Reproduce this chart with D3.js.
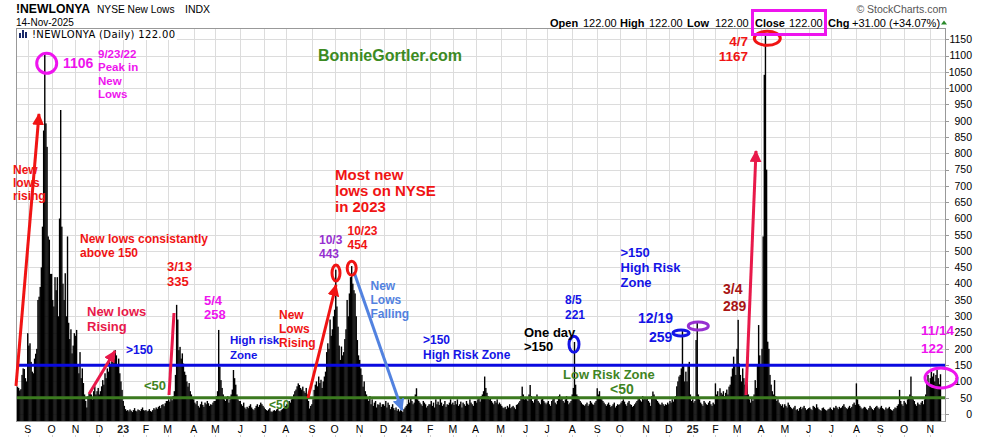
<!DOCTYPE html>
<html>
<head>
<meta charset="utf-8">
<script src="https://cdn.jsdelivr.net/npm/d3@7"></script>
<style>
  body { margin: 0; background: #fff; }
  svg { display: block; font-family: "Liberation Sans", Arial, sans-serif; }
</style>
</head>
<body>
<svg id="chart" width="990" height="438"></svg>
<script>

// NYSE new lows, one value per trading day, grouped by month
var lows2022 = [
  [84, 80, 72, 76, 120, 140, 138, 110, 100],                                                          // Aug (from 19th)
  [248, 210, 217, 160, 130, 125, 170, 185, 200, 350, 360, 390, 450, 575, 870, 1106, 892, 820, 545, 535, 430],
  [430, 350, 330, 420, 380, 420, 300, 600, 933, 575, 400, 350, 432, 300, 545, 280, 230, 260, 186, 210, 248],
  [240, 258, 150, 125, 190, 110, 140, 95, 60, 40, 20, 55, 63, 70, 60, 45, 70, 85, 60, 70, 80],
  [60, 70, 85, 104, 90, 125, 110, 140, 130, 160, 150, 175, 186, 170, 196, 180, 150, 170, 125, 100, 74]
];
var lows2023 = [
  [40, 25, 15, 10, 12, 8, 14, 10, 6, 12, 18, 10, 8, 14, 12, 9, 15, 20, 12, 10],
  [12, 8, 10, 15, 9, 7, 12, 18, 14, 20, 16, 22, 25, 18, 28, 30, 24, 33, 40],
  [40, 45, 38, 50, 42, 55, 70, 120, 335, 290, 196, 206, 170, 186, 155, 130, 120, 100, 84, 95, 70, 60, 50],
  [45, 35, 30, 40, 25, 20, 30, 38, 28, 22, 35, 30, 40, 33, 25, 30, 28, 35, 40],
  [40, 55, 70, 258, 145, 104, 80, 60, 45, 40, 50, 55, 35, 45, 60, 75, 135, 110, 90, 60, 45, 40],
  [40, 30, 25, 35, 20, 15, 22, 18, 25, 30, 20, 15, 12, 18, 25, 30, 22, 28, 35, 30, 25],
  [20, 15, 12, 10, 14, 18, 8, 6, 10, 12, 9, 14, 16, 10, 8, 12, 15, 18, 20],
  [25, 30, 28, 40, 35, 45, 50, 60, 70, 75, 85, 94, 89, 80, 75, 84, 70, 65, 80, 60, 40, 17, 25],
  [30, 45, 74, 90, 100, 85, 115, 95, 105, 80, 100, 115, 130, 190, 217, 200, 290, 240, 260, 300],
  [320, 443, 330, 268, 210, 166, 207, 180, 190, 230, 260, 350, 300, 370, 420, 454, 400, 380, 370, 300, 227, 180],
  [166, 140, 120, 84, 100, 70, 60, 50, 40, 55, 30, 45, 25, 35, 40, 20, 30, 28, 35, 22, 30],
  [30, 25, 40, 20, 35, 28, 15, 22, 30, 18, 12, 20, 10, 15, 8, 12, 10, 6, 15, 20]
];
var lows2024 = [
  [25, 30, 45, 35, 50, 40, 30, 35, 60, 79, 45, 40, 35, 30, 25, 40, 35, 30, 20, 25, 30],
  [30, 40, 25, 35, 20, 45, 30, 38, 28, 50, 35, 25, 30, 40, 22, 30, 28, 35, 45, 30],
  [35, 28, 40, 30, 45, 25, 30, 38, 20, 35, 30, 25, 40, 32, 28, 45, 35, 30, 25, 40],
  [40, 35, 45, 50, 38, 55, 60, 70, 115, 80, 65, 55, 45, 50, 40, 35, 30, 40, 35, 45, 30, 35],
  [30, 25, 20, 18, 22, 15, 25, 20, 30, 18, 22, 25, 20, 15, 28, 30, 35, 40, 55, 84, 60, 45],
  [50, 45, 40, 60, 89, 55, 40, 35, 45, 50, 60, 40, 35, 30, 45, 50, 40, 35, 30],
  [35, 40, 30, 25, 40, 45, 50, 35, 30, 40, 55, 60, 45, 50, 40, 35, 45, 55, 40, 30, 35, 40],
  [60, 80, 221, 90, 60, 55, 45, 40, 35, 30, 28, 25, 30, 35, 25, 30, 40, 35, 30, 28, 35, 40],
  [79, 60, 70, 50, 45, 40, 35, 30, 25, 30, 35, 28, 22, 25, 30, 35, 20, 25, 30, 28],
  [30, 35, 40, 45, 38, 30, 25, 35, 40, 30, 28, 22, 25, 30, 35, 40, 45, 50, 42, 38, 55, 45, 50],
  [45, 50, 40, 35, 25, 55, 69, 60, 50, 45, 40, 35, 30, 28, 35, 30, 25, 30, 28, 35],
  [30, 40, 35, 45, 38, 50, 55, 85, 100, 115, 120, 140, 259, 150, 100, 130, 100, 150, 160, 60, 40]
];
var lows2025 = [
  [45, 35, 40, 227, 285, 60, 45, 35, 30, 25, 40, 35, 30, 28, 35, 40, 30, 25, 35, 30],
  [94, 60, 70, 55, 79, 65, 60, 70, 55, 65, 75, 60, 84, 90, 115, 140, 176, 150, 120],
  [200, 289, 155, 120, 100, 140, 110, 90, 74, 176, 60, 45, 35, 50, 40, 60, 104, 80, 150, 273, 180],
  [150, 200, 545, 1041, 1167, 750, 222, 200, 120, 90, 70, 60, 104, 55, 40, 45, 35, 30, 25, 30, 20],
  [30, 25, 20, 35, 28, 22, 18, 15, 20, 25, 12, 15, 10, 18, 22, 15, 20, 25, 18, 12, 15],
  [18, 20, 15, 12, 25, 22, 18, 30, 20, 15, 12, 10, 18, 20, 15, 12, 10, 14, 16, 20],
  [15, 12, 20, 18, 25, 20, 15, 22, 18, 20, 25, 30, 22, 18, 15, 20, 25, 18, 22, 30, 35, 28],
  [94, 45, 30, 25, 20, 15, 18, 22, 20, 15, 12, 18, 25, 20, 15, 12, 18, 22, 25, 20, 15],
  [20, 25, 18, 15, 12, 20, 15, 18, 22, 15, 12, 10, 15, 20, 18, 25, 30, 74, 40, 30, 25],
  [40, 35, 30, 45, 50, 60, 115, 55, 45, 40, 30, 25, 35, 30, 28, 35, 40, 30, 45, 60, 100, 120, 95],
  [110, 130, 115, 125, 100, 120, 135, 110, 91, 122]
];

// labels for month starts, Sep 2022 .. Nov 2025 (Aug 2022 is partial, unlabeled)
var monthLabels = ["S", "O", "N", "D", "23", "F", "M", "A", "M", "J", "J", "A",
  "S", "O", "N", "D", "24", "F", "M", "A", "M", "J", "J", "A",
  "S", "O", "N", "D", "25", "F", "M", "A", "M", "J", "J", "A", "S", "O", "N"];
var yearLabels = ["23", "24", "25"];

var riskHigh = 150;
var riskLow = 50;

var plot = {left: 16, right: 945, top: 28, bottom: 421};

var values = [];
var monthStart = [];
[].concat(lows2022, lows2023, lows2024, lows2025).forEach(function(m) {
  monthStart.push(values.length);
  m.forEach(function(v) { values.push(v); });
});

var x = d3.scaleLinear().domain([0, values.length - 1]).range([17.5, 940.5]);
var y = d3.scaleLinear().domain([0, 1150]).range([414, 39.3]);

var svg = d3.select("#chart");

svg.append("rect").attr("width", 990).attr("height", 438).attr("fill", "#fff");

// grid
var grid = svg.append("g").attr("stroke", "#dcdcdc").attr("stroke-width", 1).attr("shape-rendering", "crispEdges");
grid.selectAll("line.h")
  .data(d3.range(0, 1151, 50))
  .join("line")
    .attr("class", "h")
    .attr("x1", plot.left).attr("x2", plot.right)
    .attr("y1", d => Math.round(y(d)) + 0.5).attr("y2", d => Math.round(y(d)) + 0.5);

var ticks = monthStart.slice(1).map(function(s, i) { return {i: s, label: monthLabels[i]}; });
grid.selectAll("line.v")
  .data(ticks)
  .join("line")
    .attr("class", "v")
    .attr("x1", d => Math.round(x(d.i)) + 0.5).attr("x2", d => Math.round(x(d.i)) + 0.5)
    .attr("y1", plot.top).attr("y2", plot.bottom);

// bars
svg.append("g")
  .attr("fill", "#000")
  .selectAll("rect")
  .data(values)
  .join("rect")
    .attr("x", (d, i) => x(i) - 0.7)
    .attr("width", 1.4)
    .attr("y", d => y(d))
    .attr("height", d => plot.bottom - y(d));

// risk lines
svg.append("line")
  .attr("x1", plot.left).attr("x2", plot.right)
  .attr("y1", y(riskHigh)).attr("y2", y(riskHigh))
  .attr("stroke", "#0a0ae0").attr("stroke-width", 3);
svg.append("line")
  .attr("x1", plot.left).attr("x2", plot.right)
  .attr("y1", y(riskLow)).attr("y2", y(riskLow))
  .attr("stroke", "#3b7a1f").attr("stroke-width", 3);

// frame
svg.append("rect")
  .attr("x", plot.left + 0.5).attr("y", plot.top + 0.5)
  .attr("width", plot.right - plot.left).attr("height", plot.bottom - plot.top)
  .attr("fill", "none").attr("stroke", "#999").attr("shape-rendering", "crispEdges");

// y axis on right
var yAxis = svg.append("g").style("font-size", "10.5px").attr("fill", "#000");
yAxis.selectAll("line")
  .data(d3.range(0, 1151, 50))
  .join("line")
    .attr("x1", plot.right + 1).attr("x2", plot.right + 4)
    .attr("y1", d => Math.round(y(d)) + 0.5).attr("y2", d => Math.round(y(d)) + 0.5)
    .attr("stroke", "#999");
yAxis.selectAll("text")
  .data(d3.range(0, 1151, 50))
  .join("text")
    .attr("x", 972).attr("y", d => y(d) + 3.8)
    .attr("text-anchor", "end")
    .text(d => d);

// x axis labels
var xAxis = svg.append("g").style("font-size", "10.5px");
xAxis.selectAll("text")
  .data(ticks)
  .join("text")
    .attr("x", d => x(d.i)).attr("y", 433)
    .attr("text-anchor", "middle")
    .style("font-weight", d => yearLabels.indexOf(d.label) >= 0 ? "bold" : "normal")
    .attr("fill", d => yearLabels.indexOf(d.label) >= 0 ? "#222" : "#000")
    .text(d => d.label);
xAxis.selectAll("line")
  .data(ticks)
  .join("line")
    .attr("x1", d => Math.round(x(d.i)) + 0.5).attr("x2", d => Math.round(x(d.i)) + 0.5)
    .attr("y1", 435).attr("y2", 437)
    .attr("stroke", "#ccc");

// header
svg.append("text").attr("x", 16).attr("y", 13).style("font-size", "12.2px").style("font-weight", "bold").text("!NEWLONYA");
svg.append("text").attr("x", 97).attr("y", 13).style("font-size", "10.2px").text("NYSE New Lows");
svg.append("text").attr("x", 185).attr("y", 13).style("font-size", "10.5px").text("INDX");
svg.append("text").attr("x", 16).attr("y", 25.5).style("font-size", "10px").text("14-Nov-2025");

svg.append("rect").attr("x", 17).attr("y", 29).attr("width", 160).attr("height", 11).attr("fill", "#fff");
var icon = svg.append("g").attr("fill", "#1a2a6a");
icon.append("rect").attr("x", 19).attr("y", 33).attr("width", 2).attr("height", 5);
icon.append("rect").attr("x", 22).attr("y", 30).attr("width", 2).attr("height", 8);
icon.append("rect").attr("x", 25).attr("y", 32).attr("width", 2).attr("height", 6);
svg.append("text").attr("x", 32).attr("y", 38)
  .style("font-family", "'DejaVu Sans', Verdana, sans-serif").style("font-size", "10px")
  .attr("textLength", 143).text("!NEWLONYA (Daily) 122.00");

svg.append("text").attr("x", 947).attr("y", 13).attr("text-anchor", "end")
  .style("font-size", "10.5px").attr("fill", "#555").text("\u00a9 StockCharts.com");

var ohlc = [
  ["Open", 550, true], ["122.00", 583, false], ["High", 620, true], ["122.00", 649, false],
  ["Low", 687, true], ["122.00", 715, false], ["Close", 755, true], ["122.00", 789, false],
  ["Chg", 828, true], ["+31.00 (+34.07%)", 852, false]
];
svg.append("g").style("font-size", "11px")
  .selectAll("text")
  .data(ohlc)
  .join("text")
    .attr("x", d => d[1]).attr("y", 26.5)
    .style("font-weight", d => d[2] ? "bold" : "normal")
    .text(d => d[0]);
svg.append("path").attr("d", "M941,24.5 L944,20.5 L947,24.5 Z").attr("fill", "#2a8a2a");

svg.append("text").attr("x", 318).attr("y", 61)
  .style("font-size", "16px").style("font-weight", "bold").attr("fill", "#3c8a22")
  .text("BonnieGortler.com");

// annotations
var red = "#f01414", crimson = "#e8194a", magenta = "#ee14ee", blue = "#1414e6",
    purple = "#9630d0", green = "#3f8424", sky = "#5282e0", darkred = "#a81414";

var defs = svg.append("defs");
[["red", red], ["crimson", crimson], ["sky", sky]].forEach(function(c) {
  defs.append("marker")
    .attr("id", "head-" + c[0])
    .attr("viewBox", "0 -6 12 12")
    .attr("refX", 11).attr("refY", 0)
    .attr("markerUnits", "userSpaceOnUse")
    .attr("markerWidth", 12).attr("markerHeight", 12)
    .attr("orient", "auto")
    .append("path").attr("d", "M0,-6 L12,0 L0,6 Z").attr("fill", c[1]);
});

var arrows = [
  [16, 386, 39, 114, red, "red"],
  [89, 394, 115, 351, crimson, "crimson"],
  [169, 395, 174, 313, crimson, null],
  [308, 398, 336, 285, red, "red"],
  [354, 272, 402, 410, sky, "sky"],
  [746, 395, 756, 151, crimson, "crimson"]
];
svg.append("g").selectAll("line")
  .data(arrows)
  .join("line")
    .attr("x1", d => d[0]).attr("y1", d => d[1])
    .attr("x2", d => d[2]).attr("y2", d => d[3])
    .attr("stroke", d => d[4]).attr("stroke-width", 3)
    .attr("marker-end", d => d[5] ? "url(#head-" + d[5] + ")" : null);

var rings = [
  [46.7, 63.3, 10, 10, magenta],
  [336, 273, 4, 8, red],
  [351.7, 268.3, 4.5, 7, red],
  [574, 344.3, 5, 8, blue],
  [681, 333, 8, 3, blue],
  [698.3, 326, 10, 4, purple],
  [767.3, 38.3, 13, 7, red],
  [941, 378, 16, 10, magenta]
];
svg.append("g").selectAll("ellipse")
  .data(rings)
  .join("ellipse")
    .attr("cx", d => d[0]).attr("cy", d => d[1])
    .attr("rx", d => d[2]).attr("ry", d => d[3])
    .attr("fill", "none").attr("stroke", d => d[4]).attr("stroke-width", 3);

svg.append("rect").attr("x", 752.5).attr("y", 10.5).attr("width", 73).attr("height", 24)
  .attr("fill", "none").attr("stroke", magenta).attr("stroke-width", 3);

// text notes: lines, x, first baseline, size, colour, line gap, anchor
var notes = [
  [["1106"], 63, 68, 14, magenta, 0],
  [["9/23/22", "Peak in", "New", "Lows"], 98, 58, 11.5, magenta, 13.3],
  [["New", "lows", "rising"], 13, 174, 12, red, 13],
  [["New lows consistantly", "above 150"], 80, 242.5, 12, red, 14],
  [["New lows", "Rising"], 87, 316.3, 13, crimson, 15],
  [[">150"], 126, 354, 12, blue, 0],
  [["<50"], 144, 390.3, 13, green, 0],
  [["3/13", "335"], 167, 270.5, 13, red, 15],
  [["5/4", "258"], 204, 304.5, 13, magenta, 14.5],
  [["High risk", "Zone"], 230, 344.2, 11.5, blue, 15],
  [["New", "Lows", "Rising"], 279, 319.2, 12, red, 14],
  [["<50"], 269, 409.2, 12, green, 0],
  [["Most new", "lows on NYSE", "in 2023"], 335, 180.3, 15, red, 16],
  [["10/3", "443"], 319, 244.2, 12, purple, 14],
  [["10/23", "454"], 347.5, 235, 12, red, 13.7],
  [["New", "Lows", "Falling"], 370.5, 290.2, 12, sky, 13.7],
  [[">150", "High Risk Zone"], 423, 344.2, 12, blue, 15],
  [["8/5", "221"], 565, 303.5, 12, blue, 15],
  [["One day", ">150"], 524, 336.8, 13, "#000", 14.5],
  [[">150", "High Risk", "Zone"], 620.5, 256.8, 13, blue, 15],
  [["12/19"], 638, 323, 14, blue, 0],
  [["259"], 649, 341.6, 14, blue, 0],
  [["Low Risk Zone"], 563, 379, 13, green, 0],
  [["<50"], 610, 394.2, 14, green, 0],
  [["3/4", "289"], 723, 294.2, 14, darkred, 16.7],
  [["4/7", "1167"], 748, 46, 13.5, red, 15, "end"],
  [["11/14", "122"], 921, 335, 13.5, magenta, 18]
];
var noteG = svg.append("g").style("font-weight", "bold");
notes.forEach(function(n) {
  var t = noteG.append("text")
    .attr("x", n[1]).attr("y", n[2])
    .attr("text-anchor", n[6] || "start")
    .style("font-size", n[3] + "px")
    .attr("fill", n[4]);
  n[0].forEach(function(line, k) {
    t.append("tspan").attr("x", n[1]).attr("y", n[2] + k * n[5]).text(line);
  });
});

</script>
</body>
</html>
